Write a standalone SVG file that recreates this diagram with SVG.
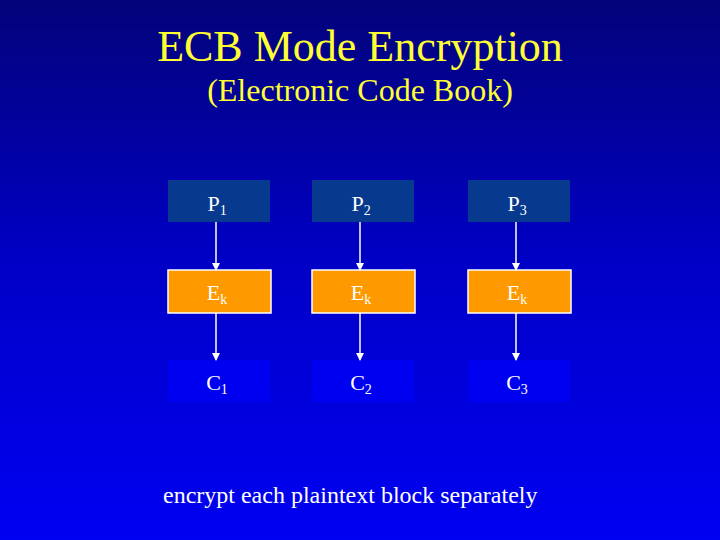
<svg xmlns="http://www.w3.org/2000/svg" width="720" height="540" viewBox="0 0 720 540">
<defs>
<linearGradient id="bg" x1="0" y1="0" x2="0" y2="1">
<stop offset="0" stop-color="#03037a"/>
<stop offset="0.5" stop-color="#0000c8"/>
<stop offset="1" stop-color="#0000f2"/>
</linearGradient>
<marker id="ah" markerWidth="8" markerHeight="8" refX="7" refY="4" orient="auto" markerUnits="userSpaceOnUse">
<path d="M0,0 L8,4 L0,8 Z" fill="#ffffff"/>
</marker>
<style>
.lbl{font-family:"Liberation Serif",serif;font-size:22px;fill:#ffffff;text-anchor:middle}
.sub{font-size:14px}
.p{fill:#073a8e}
.e{fill:#ff9900;stroke:#ffffff;stroke-width:1.5}
.c{fill:#0000f0}
.conn line{stroke:#ffffff;stroke-width:1.5;marker-end:url(#ah)}
</style>
</defs>
<rect width="720" height="540" fill="url(#bg)"/>
<text x="360" y="61" font-family="Liberation Serif,serif" font-size="44" fill="#ffff33" text-anchor="middle">ECB Mode Encryption</text>
<text x="360" y="101" font-family="Liberation Serif,serif" font-size="32" fill="#ffff33" text-anchor="middle">(Electronic Code Book)</text>
<g id="P1"><rect class="p" x="168" y="180" width="102" height="42"/><text class="lbl" x="217" y="211">P<tspan class="sub" dy="4">1</tspan></text></g>
<g id="P2"><rect class="p" x="312" y="180" width="102" height="42"/><text class="lbl" x="361" y="211">P<tspan class="sub" dy="4">2</tspan></text></g>
<g id="P3"><rect class="p" x="468" y="180" width="102" height="42"/><text class="lbl" x="517" y="211">P<tspan class="sub" dy="4">3</tspan></text></g>
<g id="E1"><rect class="e" x="168" y="270" width="103" height="43"/><text class="lbl" x="217" y="300">E<tspan class="sub" dy="4">k</tspan></text></g>
<g id="E2"><rect class="e" x="312" y="270" width="103" height="43"/><text class="lbl" x="361" y="300">E<tspan class="sub" dy="4">k</tspan></text></g>
<g id="E3"><rect class="e" x="468" y="270" width="103" height="43"/><text class="lbl" x="517" y="300">E<tspan class="sub" dy="4">k</tspan></text></g>
<g id="C1"><rect class="c" x="168" y="360" width="102" height="42"/><text class="lbl" x="217" y="390">C<tspan class="sub" dy="4">1</tspan></text></g>
<g id="C2"><rect class="c" x="312" y="360" width="102" height="42"/><text class="lbl" x="361" y="390">C<tspan class="sub" dy="4">2</tspan></text></g>
<g id="C3"><rect class="c" x="468" y="360" width="102" height="42"/><text class="lbl" x="517" y="390">C<tspan class="sub" dy="4">3</tspan></text></g>
<g class="conn">
<line x1="216" y1="222" x2="216" y2="270"/>
<line x1="360" y1="222" x2="360" y2="270"/>
<line x1="516" y1="222" x2="516" y2="270"/>
<line x1="216" y1="313" x2="216" y2="360"/>
<line x1="360" y1="313" x2="360" y2="360"/>
<line x1="516" y1="313" x2="516" y2="360"/>
</g>
<text x="163" y="503" font-family="Liberation Serif,serif" font-size="24" fill="#ffffff">encrypt each plaintext block separately</text>
</svg>
